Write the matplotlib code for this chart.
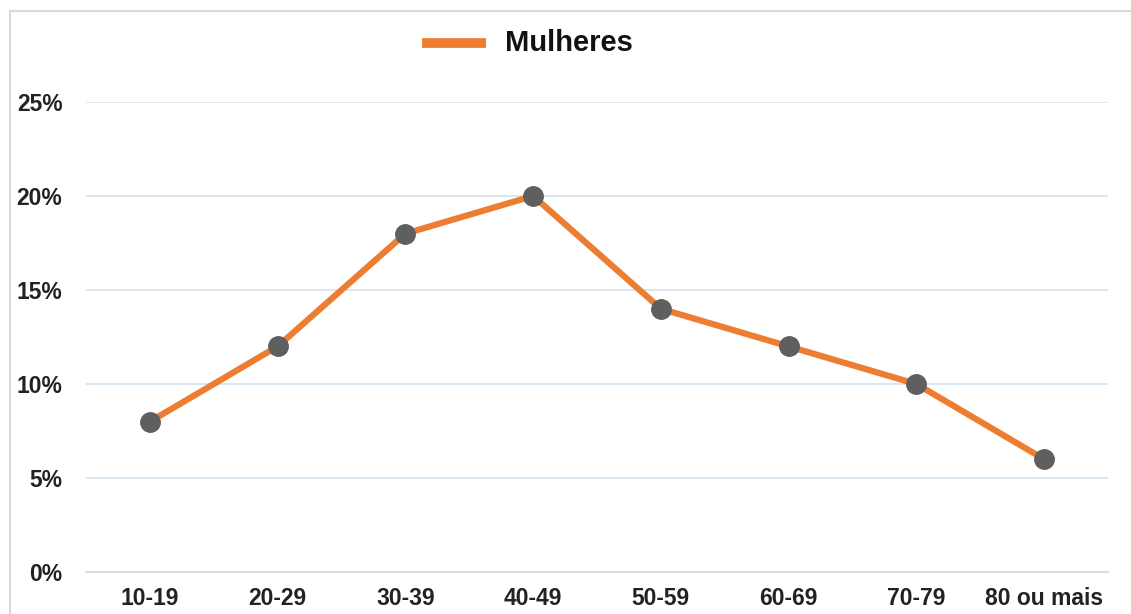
import matplotlib.pyplot as plt
from matplotlib.lines import Line2D
from matplotlib.ticker import FuncFormatter

plt.rcParams['font.family'] = ['Liberation Sans', 'DejaVu Sans']

faixas = ["10-19", "20-29", "30-39", "40-49", "50-59", "60-69", "70-79", "80 ou mais"]
mulheres = [0.08, 0.12, 0.18, 0.20, 0.14, 0.12, 0.10, 0.06]
yticks = [0, 0.05, 0.10, 0.15, 0.20, 0.25]

orange = '#ED7D31'
gray = '#5F5F5F'

fig = plt.figure(figsize=(11.31, 6.14), dpi=100)
ax = fig.add_axes([86 / 1131, 42 / 614, 1022 / 1131, 470 / 614])

x = range(len(faixas))
ax.plot(x, mulheres, color=orange, lw=4.5, marker='o', ms=14,
        mfc=gray, mec=gray, zorder=3)

ax.set_xlim(-0.5, len(faixas) - 0.5)
ax.set_ylim(0, 0.25)
ax.set_yticks(yticks)
ax.yaxis.set_major_formatter(FuncFormatter(lambda v, _: f"{v * 100:.0f}%"))
ax.set_xticks(list(x))
ax.set_xticklabels(faixas)

ax.grid(axis='y', color='#D3E1F0', lw=1.2)
ax.set_axisbelow(True)
for s in ['top', 'right', 'left']:
    ax.spines[s].set_visible(False)
ax.spines['bottom'].set_color('#D9D9D9')
ax.spines['bottom'].set_linewidth(1.2)
ax.tick_params(axis='both', length=0, labelsize=16.5)
ax.tick_params(axis='y', pad=17)
ax.tick_params(axis='x', pad=11)
for lab in ax.get_xticklabels() + ax.get_yticklabels():
    lab.set_fontweight('bold')
    lab.set_color('#222222')

# chart border (top and left only visible)
fig.add_artist(Line2D([10 / 1131, 10 / 1131], [0, 1 - 11 / 614], color='#D9D9D9', lw=1.5))
fig.add_artist(Line2D([10 / 1131, 1], [1 - 11 / 614, 1 - 11 / 614], color='#D9D9D9', lw=1.5))

# legend
leg_y = 1 - 43 / 614
fig.add_artist(Line2D([422 / 1131, 486 / 1131], [leg_y, leg_y], color=orange, lw=7,
                      solid_capstyle='butt'))
fig.text(505 / 1131, leg_y, "Mulheres", fontsize=21, fontweight='bold',
         va='center', ha='left', color='#111111')

fig.savefig('out.png', dpi=100)
